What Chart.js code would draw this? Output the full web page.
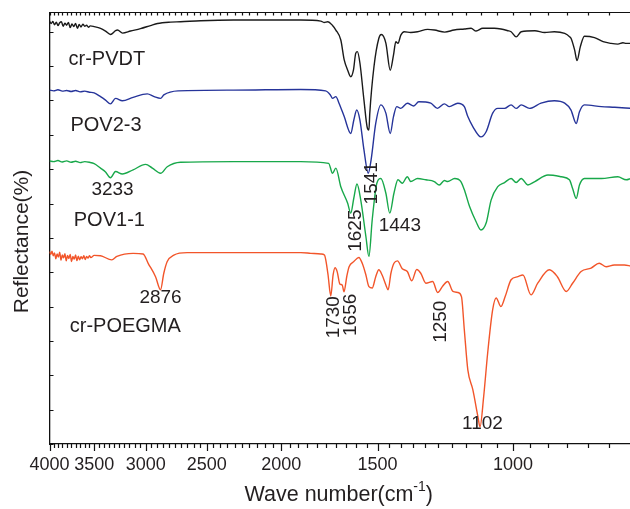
<!DOCTYPE html>
<html>
<head>
<meta charset="utf-8">
<script src="https://cdn.jsdelivr.net/npm/chart.js@4.4.0/dist/chart.umd.min.js"></script>
<style>
  html, body { margin: 0; padding: 0; background: #fff; }
  #wrap { width: 630px; height: 509px; }
</style>
</head>
<body>
<div id="wrap"><canvas id="irChart" width="630" height="509"></canvas></div>
<script>
// axis ticks
var xMajor = [4000, 3500, 3000, 2500, 2000, 1500, 1000];
var xMinorStep = 50;
var yTicks = [0, 10, 20, 30, 40, 50, 60, 70, 80, 90, 100, 110, 120];

// spectra: [wave number (cm-1), reflectance]
var pvdt = [[4000,123.1],[3980,122.4],[3960,123.0],[3940,122.0],[3920,122.8],[3900,121.8],[3880,122.6],[3860,122.9],[3840,121.6],[3820,122.5],[3800,121.9],[3780,122.7],[3760,121.2],[3740,122.3],[3720,121.5],[3700,122.4],[3680,121.0],[3660,122.1],[3640,121.4],[3620,122.2],[3600,121.6],[3580,121.9],[3560,121.3],[3540,121.7],[3500,121.5],[3434,121.0],[3383,120.2],[3333,119.2],[3283,120.3],[3264,120.5],[3215,119.6],[3139,120.2],[3047,120.9],[2957,121.8],[2896,122.4],[2785,122.8],[2703,122.9],[2546,123.2],[2306,123.4],[2003,123.4],[1887,123.4],[1777,123.1],[1760,122.7],[1740,122.9],[1717,121.9],[1699,120.5],[1674,117.6],[1657,111.8],[1640,108.8],[1625,106.9],[1612,108.8],[1601,113.7],[1593,114.2],[1581,110.9],[1562,100.1],[1546,91.9],[1539,91.4],[1535,96.3],[1516,109.8],[1494,118.1],[1483,119.2],[1463,116.7],[1444,108.8],[1430,113.2],[1420,117.1],[1411,116.6],[1399,119.0],[1385,120.0],[1358,119.8],[1331,120.0],[1291,120.7],[1265,120.5],[1227,119.9],[1193,120.5],[1157,120.8],[1134,121.0],[1117,120.2],[1095,121.0],[1058,121.0],[1037,120.8],[1016,120.3],[1006,120.0],[991,118.5],[976,120.0],[937,120.3],[910,119.8],[884,120.0],[857,119.5],[844,118.5],[841,118.1],[832,114.7],[826,111.6],[818,115.6],[808,118.7],[784,118.3],[764,117.1],[746,116.6],[731,116.4],[720,116.8],[713,116.6],[703,116.6]];

var pov23 = [[4000,103.0],[3950,102.8],[3900,103.1],[3850,102.7],[3800,102.9],[3750,102.6],[3700,102.9],[3650,102.5],[3600,102.7],[3550,102.4],[3500,102.2],[3434,101.1],[3383,100.1],[3333,99.0],[3283,100.6],[3217,99.9],[3115,100.9],[2986,101.9],[2925,101.1],[2870,100.6],[2842,101.6],[2723,102.8],[2306,103.0],[1887,103.2],[1752,102.8],[1727,101.6],[1716,100.6],[1699,101.1],[1683,99.2],[1657,95.3],[1625,90.4],[1610,94.3],[1596,97.2],[1581,94.3],[1562,85.6],[1542,78.8],[1529,82.7],[1508,93.3],[1485,98.7],[1463,96.3],[1444,90.4],[1430,95.3],[1416,98.2],[1399,97.7],[1372,99.2],[1346,98.4],[1326,99.6],[1279,99.2],[1254,97.7],[1228,99.0],[1210,98.2],[1180,99.2],[1157,98.2],[1145,95.3],[1128,92.4],[1101,89.4],[1084,90.9],[1063,96.3],[1047,97.7],[1026,97.7],[1006,98.7],[991,97.7],[976,98.7],[952,97.7],[920,99.2],[884,99.9],[857,99.2],[841,97.2],[828,93.3],[820,96.7],[808,98.7],[768,98.2],[738,98.0],[703,97.7]];

var pov11 = [[4000,82.4],[3950,82.2],[3900,82.5],[3850,82.1],[3800,82.4],[3750,82.0],[3700,82.3],[3650,81.9],[3600,82.2],[3550,82.0],[3500,81.6],[3434,80.3],[3383,79.2],[3333,77.5],[3283,79.3],[3217,78.6],[3115,79.8],[3001,81.4],[2941,80.3],[2870,78.8],[2813,80.7],[2703,82.0],[2306,82.2],[1887,82.2],[1736,81.7],[1716,78.8],[1699,80.3],[1674,74.9],[1640,70.1],[1625,67.2],[1610,71.6],[1595,75.7],[1577,71.0],[1553,60.4],[1539,54.6],[1524,65.2],[1503,75.9],[1485,77.3],[1463,73.0],[1446,67.2],[1428,73.0],[1411,76.9],[1393,75.9],[1372,77.8],[1358,76.4],[1331,77.3],[1298,76.9],[1266,76.4],[1247,75.4],[1228,76.7],[1216,76.4],[1191,77.3],[1169,76.4],[1155,73.5],[1139,69.1],[1117,64.7],[1101,62.3],[1084,64.3],[1068,71.0],[1047,74.9],[1026,76.1],[1006,77.3],[991,76.1],[976,77.3],[957,75.4],[937,76.4],[901,78.3],[866,77.8],[845,76.9],[837,74.4],[828,71.5],[820,75.4],[808,77.3],[768,77.3],[731,77.8],[713,76.9],[703,77.3]];

var poegma = [[4000,56.0],[3985,55.2],[3970,56.1],[3955,54.8],[3940,55.6],[3925,53.9],[3910,55.3],[3895,54.4],[3880,55.8],[3865,53.5],[3850,55.0],[3835,54.2],[3820,55.4],[3805,53.3],[3790,54.9],[3775,54.0],[3760,55.2],[3745,53.1],[3730,54.6],[3715,53.8],[3700,55.0],[3685,53.4],[3670,54.7],[3655,53.6],[3640,54.5],[3625,53.9],[3610,54.8],[3595,53.7],[3580,54.6],[3565,54.1],[3550,54.8],[3535,54.3],[3500,54.9],[3434,54.8],[3320,53.6],[3270,54.6],[3115,55.5],[3023,55.3],[2978,52.6],[2913,48.7],[2870,44.9],[2842,49.7],[2813,53.1],[2758,55.0],[2650,55.7],[2306,55.7],[1887,55.7],[1831,55.5],[1777,55.3],[1758,55.0],[1751,53.6],[1739,49.2],[1725,43.1],[1713,49.2],[1703,51.3],[1692,50.1],[1679,46.6],[1667,46.3],[1658,44.3],[1644,48.9],[1633,51.6],[1610,53.1],[1586,54.3],[1570,52.6],[1553,49.2],[1539,45.8],[1524,45.4],[1508,48.7],[1494,50.7],[1479,49.1],[1463,46.3],[1453,44.9],[1441,49.7],[1428,52.6],[1413,53.3],[1393,51.0],[1372,50.2],[1354,47.5],[1334,50.8],[1318,49.7],[1298,46.8],[1272,47.3],[1253,44.1],[1234,46.0],[1216,47.3],[1197,44.4],[1180,44.1],[1167,42.9],[1157,33.2],[1145,21.6],[1128,15.8],[1111,8.0],[1104,5.0],[1092,13.8],[1079,26.5],[1063,39.1],[1052,42.5],[1037,40.0],[1024,42.9],[1006,47.8],[986,48.7],[971,49.2],[948,43.4],[929,46.8],[897,50.7],[876,48.7],[853,44.4],[837,46.8],[816,50.2],[792,51.2],[773,52.6],[757,51.6],[739,52.1],[717,52.1],[703,51.8]];

// series names, anchored at their left edge (wave number, reflectance)
var names = [
    { text: 'cr-PVDT',   w: 3779, v: 111.8 },
    { text: 'POV2-3',    w: 3757, v: 92.6 },
    { text: 'POV1-1',    w: 3720, v: 65.0 },
    { text: 'cr-POEGMA', w: 3765, v: 34.2 }
];
// peak labels, anchored at their centre
var peaks = [
    { text: '3233', w: 3313, v: 73.9, rot: false },
    { text: '2876', w: 2870, v: 42.5, rot: false },
    { text: '1443', w: 1403, v: 63.4, rot: false },
    { text: '1102', w: 1096, v: 5.9,  rot: false },
    { text: '1625', w: 1601, v: 62.1, rot: true },
    { text: '1541', w: 1524, v: 75.9, rot: true },
    { text: '1730', w: 1708, v: 36.9, rot: true },
    { text: '1656', w: 1625, v: 37.6, rot: true },
    { text: '1250', w: 1241, v: 35.6, rot: true }
];

var FONT = '"Liberation Sans", Arial, Helvetica, sans-serif';
var INK = '#231f20';

function toXY(arr) {
    return arr.map(function (p) { return { x: p[0], y: p[1] }; });
}

function line(label, arr, color) {
    return {
        label: label,
        data: toXY(arr),
        borderColor: color,
        borderWidth: 1.4,
        pointRadius: 0,
        fill: false,
        cubicInterpolationMode: 'monotone'
    };
}

// frame, ticks, titles and text labels
var decorPlugin = {
    id: 'decor',
    afterDraw: function (chart) {
        var ctx = chart.ctx, a = chart.chartArea;
        var xs = chart.scales.x, ys = chart.scales.y;
        ctx.save();
        ctx.strokeStyle = '#111';
        ctx.lineWidth = 1.2;
        ctx.beginPath();
        ctx.moveTo(a.left, a.top);
        ctx.lineTo(a.right, a.top);
        for (var w = xMajor[0]; w >= xs.min; w -= xMinorStep) {
            var px = Math.round(xs.getPixelForValue(w)) + 0.5;
            var major = xMajor.indexOf(w) >= 0;
            ctx.moveTo(px, a.bottom);
            ctx.lineTo(px, a.bottom + (major ? 7 : 4));
            ctx.moveTo(px, a.top);
            ctx.lineTo(px, a.top + 3);
        }
        yTicks.forEach(function (v) {
            var py = Math.round(ys.getPixelForValue(v)) + 0.5;
            ctx.moveTo(a.left, py);
            ctx.lineTo(a.left + 4, py);
        });
        ctx.stroke();

        ctx.fillStyle = INK;
        // y title
        ctx.save();
        ctx.translate(22, 241.5);
        ctx.rotate(-Math.PI / 2);
        ctx.font = '21px ' + FONT;
        ctx.textAlign = 'center';
        ctx.textBaseline = 'middle';
        ctx.fillText('Reflectance(%)', 0, 0);
        ctx.restore();

        // x title with superscript
        var big = '21.5px ' + FONT, small = '14px ' + FONT;
        var t1 = 'Wave number(cm', t2 = '-1', t3 = ')';
        ctx.font = big;
        var w1 = ctx.measureText(t1).width, w3 = ctx.measureText(t3).width;
        ctx.font = small;
        var w2 = ctx.measureText(t2).width;
        var cx = (a.left + a.right) / 2 - 1;
        var x0 = cx - (w1 + w2 + w3) / 2, base = 501;
        ctx.textAlign = 'left';
        ctx.textBaseline = 'alphabetic';
        ctx.font = big;
        ctx.fillText(t1, x0, base);
        ctx.font = small;
        ctx.fillText(t2, x0 + w1, base - 10);
        ctx.font = big;
        ctx.fillText(t3, x0 + w1 + w2, base);

        // series names
        ctx.font = '20px ' + FONT;
        ctx.textAlign = 'left';
        ctx.textBaseline = 'middle';
        names.forEach(function (n) {
            ctx.fillText(n.text, xs.getPixelForValue(n.w), ys.getPixelForValue(n.v));
        });

        // peak labels
        ctx.font = '19px ' + FONT;
        ctx.textAlign = 'center';
        peaks.forEach(function (p) {
            var px = xs.getPixelForValue(p.w), py = ys.getPixelForValue(p.v);
            if (p.rot) {
                ctx.save();
                ctx.translate(px, py);
                ctx.rotate(-Math.PI / 2);
                ctx.fillText(p.text, 0, 0);
                ctx.restore();
            } else {
                ctx.fillText(p.text, px, py);
            }
        });
        ctx.restore();
    }
};

new Chart(document.getElementById('irChart').getContext('2d'), {
    type: 'line',
    data: {
        datasets: [
            line('cr-PVDT', pvdt, '#1a1a1a'),
            line('POV2-3', pov23, '#26349a'),
            line('POV1-1', pov11, '#18a84a'),
            line('cr-POEGMA', poegma, '#f2552a')
        ]
    },
    options: {
        responsive: false,
        animation: false,
        devicePixelRatio: 1,
        layout: { padding: { top: 12.5, right: 0, left: 0, bottom: 0 } },
        plugins: {
            legend: { display: false },
            tooltip: { enabled: false }
        },
        scales: {
            x: {
                type: 'logarithmic',
                reverse: true,
                min: 705,
                max: 4000,
                afterBuildTicks: function (s) {
                    s.ticks = xMajor.map(function (v) { return { value: v }; });
                },
                afterFit: function (s) { s.height = 65; },
                ticks: {
                    autoSkip: false,
                    maxRotation: 0,
                    padding: 10,
                    color: INK,
                    font: { family: FONT, size: 18 },
                    callback: function (v) { return String(v); }
                },
                grid: { display: false, drawTicks: false },
                border: { display: true, color: '#111', width: 1.3 }
            },
            y: {
                min: 0,
                max: 125.6,
                afterBuildTicks: function (s) {
                    s.ticks = yTicks.map(function (v) { return { value: v }; });
                },
                afterFit: function (s) { s.width = 49.5; },
                ticks: { display: false },
                grid: { display: false, drawTicks: false },
                border: { display: true, color: '#111', width: 1.3 }
            }
        }
    },
    plugins: [decorPlugin]
});
</script>
</body>
</html>
